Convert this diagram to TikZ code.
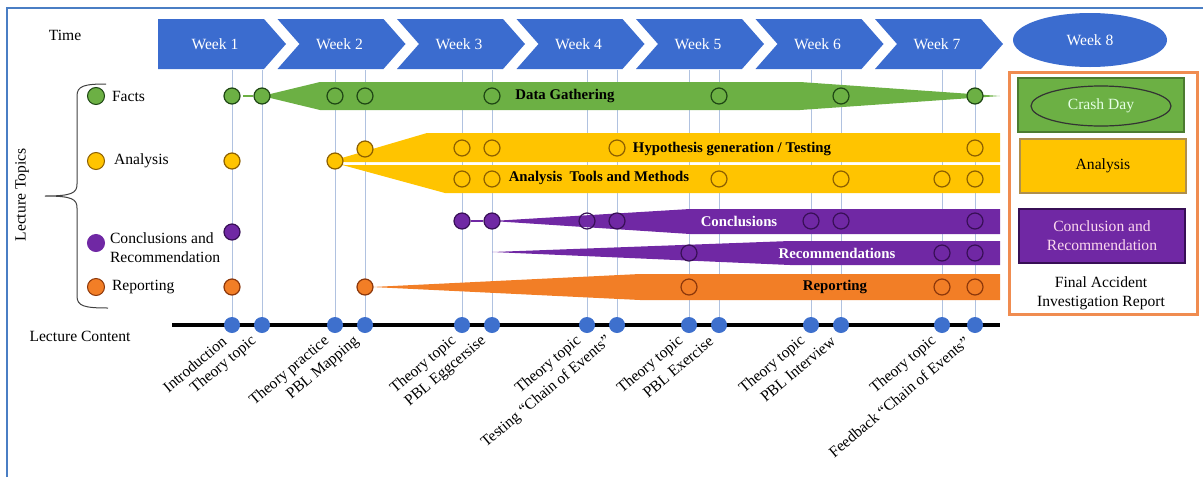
\documentclass[tikz,border=0pt]{standalone}
\usepackage{fontspec}
\setmainfont{Liberation Serif}
\usetikzlibrary{shapes.geometric,backgrounds}

\definecolor{frameblue}{RGB}{74,126,196}
\definecolor{weekblue}{RGB}{59,108,207}
\definecolor{dotblue}{RGB}{62,112,205}
\definecolor{colline}{RGB}{176,194,224}
\definecolor{factgreen}{RGB}{108,176,68}
\definecolor{factdark}{RGB}{30,70,20}
\definecolor{anagold}{RGB}{255,196,0}
\definecolor{anadark}{RGB}{140,95,0}
\definecolor{conpurple}{RGB}{112,40,164}
\definecolor{condark}{RGB}{55,15,85}
\definecolor{reporange}{RGB}{242,126,38}
\definecolor{repdark}{RGB}{140,55,10}
\definecolor{boxorange}{RGB}{240,140,80}

\begin{document}
\begin{tikzpicture}[x=0.5pt,y=-0.5pt,font=\fontsize{7.8}{9.4}\selectfont,
    dot/.style={circle,inner sep=0pt,minimum size=8pt,line width=0.6pt},
    key/.style={circle,inner sep=0pt,minimum size=8.5pt,line width=0.5pt},
    box/.style={minimum width=83pt,minimum height=27pt,line width=0.6pt},
    bandtext/.style={font=\fontsize{7.4}{9}\selectfont\bfseries}]

  \useasboundingbox (0,0) rectangle (1203,477);
  \draw[frameblue,line width=1pt] (7,477) -- (7,8) -- (1203,8);

  % week arrows
  \foreach \k in {1,...,7} {
    \pgfmathsetmacro{\xl}{158+119.5*(\k-1)}
    \pgfmathsetmacro{\dn}{\k==1 ? 0 : 22}
    \pgfmathsetmacro{\xc}{\xl+57+5*(\k>1)}
    \fill[weekblue] (\xl,19) -- ++(106,0) -- ++(22,25) -- ++(-22,25)
      -- ++(-106,0) -- ++(\dn,-25) -- cycle;
    \node[text=white] (w\k) at (\xc,44) {Week \k};
  }
  \node[ellipse,fill=weekblue,text=white,minimum width=77pt,minimum height=27pt]
    (w8) at (1090,40) {Week 8};

  \node (time) at (65,35) {Time};
  \node[rotate=90] (topics) at (22,195) {Lecture Topics};
  \node (content) at (80,336) {Lecture Content};

  \draw[black!75,line width=0.5pt] (106,84) .. controls (84,84) and (77,86) .. (77,96)
    -- (77,184) .. controls (77,193) and (72,196) .. (45,196)
    .. controls (72,196) and (77,199) .. (77,208)
    -- (77,296) .. controls (77,306) and (84,308) .. (108,308);

  % topic keys
  \node[key,fill=factgreen,draw=factdark] (kf) at (96,96) {};
  \node[key,fill=anagold,draw=anadark] (ka) at (96,161) {};
  \node[key,fill=conpurple,draw=conpurple] (kc) at (96,243) {};
  \node[key,fill=reporange,draw=repdark] (kr) at (96,287) {};
  \node[anchor=west] at (kf.east) {Facts};
  \node[anchor=west] at ([xshift=1pt]ka.east) {Analysis};
  \node[anchor=west,align=left] at (103,248) {Conclusions and\\Recommendation};
  \node[anchor=west] at (kr.east) {Reporting};

  % lecture content line
  \foreach \x [count=\i] in {232,262,335,365,462,492,587,617,689,719,811,841,942,975}
    \node[dot,fill=dotblue] (c\i) at (\x,325) {};
  \begin{scope}[on background layer]
    \foreach \x [count=\i] in {232,262,335,365,462,492,587,617,689,719,811,841,942,975}
      \draw[colline,line width=0.5pt] (\x,70) -- (c\i.center);
    \draw[line width=2pt] (172,325) -- (1000,325);
  \end{scope}

  \begin{scope}[every node/.style={rotate=40,anchor=east,inner sep=1pt}]
    \node (l1)  at ([xshift=-3pt,yshift=-6.5pt]c1.center)  {Introduction};
    \node (l2)  at ([xshift=-3pt,yshift=-6.5pt]c2.center)  {Theory topic};
    \node (l3)  at ([xshift=-3pt,yshift=-6.5pt]c3.center)  {Theory practice};
    \node (l4)  at ([xshift=-3pt,yshift=-6.5pt]c4.center)  {PBL Mapping};
    \node (l5)  at ([xshift=-3pt,yshift=-6.5pt]c5.center)  {Theory topic};
    \node (l6)  at ([xshift=-3pt,yshift=-6.5pt]c6.center)  {PBL Eggcersise};
    \node (l7)  at ([xshift=-3pt,yshift=-6.5pt]c7.center)  {Theory topic};
    \node (l8)  at ([xshift=-3pt,yshift=-6.5pt]c8.center)  {Testing ``Chain of Events''};
    \node (l9)  at ([xshift=-3pt,yshift=-6.5pt]c9.center)  {Theory topic};
    \node (l10) at ([xshift=-3pt,yshift=-6.5pt]c10.center) {PBL Exercise};
    \node (l11) at ([xshift=-3pt,yshift=-6.5pt]c11.center) {Theory topic};
    \node (l12) at ([xshift=-3pt,yshift=-6.5pt]c12.center) {PBL Interview};
    \node (l13) at ([xshift=-3pt,yshift=-6.5pt]c13.center) {Theory topic};
    \node (l14) at ([xshift=-3pt,yshift=-6.5pt]c14.center) {Feedback ``Chain of Events''};
  \end{scope}

  % topic bands
  \fill[factgreen] (262,96) -- (320,82) -- (800,82) -- (1000,96) -- (800,110) -- (320,110) -- cycle;
  \fill[anagold] (335,160) -- (427,133) -- (1000,133) -- (1000,162) -- (345,162) -- cycle;
  \fill[anagold] (335,163) -- (345,165) -- (1000,165) -- (1000,193) -- (445,193) -- cycle;
  \fill[conpurple] (492,221) -- (690,209) -- (1000,209) -- (1000,234) -- (690,234) -- cycle;
  \fill[conpurple] (492,252) -- (790,241) -- (1000,241) -- (1000,265) -- (790,265) -- cycle;
  \fill[reporange] (372,287) -- (640,274) -- (1000,274) -- (1000,300) -- (640,300) -- cycle;

  \node[bandtext] (gather) at (565,96) {Data Gathering};
  \node[bandtext] (hyp) at (732,149) {Hypothesis generation / Testing};
  \node[bandtext] (tools) at (599,178) {Analysis \ Tools and Methods};
  \node[bandtext,text=white] (concl) at (739,221) {Conclusions};
  \node[bandtext,text=white] (recom) at (837,253) {Recommendations};
  \node[bandtext] (report) at (835,287) {Reporting};

  % facts
  \begin{scope}[every node/.style={dot,draw=factdark}]
    \node[fill=factgreen] (f1) at (232,96) {};
    \node[fill=factgreen] (f2) at (262,96) {};
    \node (f3) at (335,96) {};
    \node (f4) at (365,96) {};
    \node (f6) at (492,96) {};
    \node (f10) at (719,96) {};
    \node (f12) at (841,96) {};
    \node[fill=factgreen] (f14) at (975,96) {};
  \end{scope}
  \draw[factgreen,line width=1pt] (243,96) -- (f2);

  % analysis
  \begin{scope}[every node/.style={dot,draw=anadark}]
    \node[fill=anagold] (a1) at (232,161) {};
    \node[fill=anagold] (a3) at (335,161) {};
    \node[fill=anagold] (h4) at (365,149) {};
    \node (h5) at (462,148) {};
    \node (h6) at (492,148) {};
    \node (h8) at (617,148) {};
    \node (h14) at (975,148) {};
    \node (t5) at (462,179) {};
    \node (t6) at (492,179) {};
    \node (t10) at (719,179) {};
    \node (t12) at (841,179) {};
    \node (t13) at (942,179) {};
    \node (t14) at (975,179) {};
  \end{scope}

  % conclusions and recommendations
  \begin{scope}[every node/.style={dot,draw=condark}]
    \node[fill=conpurple] (k1) at (232,232) {};
    \node[fill=conpurple] (k5) at (462,221) {};
    \node[fill=conpurple] (k6) at (492,221) {};
    \node (k7) at (587,221) {};
    \node (k8) at (617,221) {};
    \node (k11) at (811,221) {};
    \node (k12) at (841,221) {};
    \node (k14) at (975,221) {};
    \node (r9) at (689,253) {};
    \node (r13) at (942,253) {};
    \node (r14) at (975,253) {};
  \end{scope}
  \draw[conpurple,line width=1pt] (k5) -- (k6);

  % reporting
  \begin{scope}[every node/.style={dot,draw=repdark}]
    \node[fill=reporange] (p1) at (232,287) {};
    \node[fill=reporange] (p4) at (365,287) {};
    \node (p9) at (689,287) {};
    \node (p13) at (942,287) {};
    \node (p14) at (975,287) {};
  \end{scope}

  % final report
  \draw[boxorange,line width=1.5pt] (1009,72) rectangle (1197,314);
  \node[box,fill=factgreen,draw=factgreen!70!black] (fbox) at (1101,105) {};
  \node[ellipse,draw=black!80,line width=0.6pt,minimum width=70pt,minimum height=20pt,
    text=white!90!green] (crash) at (1101,106) {Crash Day};
  \node[box,fill=anagold,draw=anadark!70] (abox) at (1103,166) {Analysis};
  \node[box,fill=conpurple,draw=condark,text=white!85!magenta,align=center]
    (cbox) at (1102,236) {Conclusion and\\Recommendation};
  \node[align=center] (final) at (1101,293) {Final Accident\\Investigation Report};

\end{tikzpicture}
\end{document}
